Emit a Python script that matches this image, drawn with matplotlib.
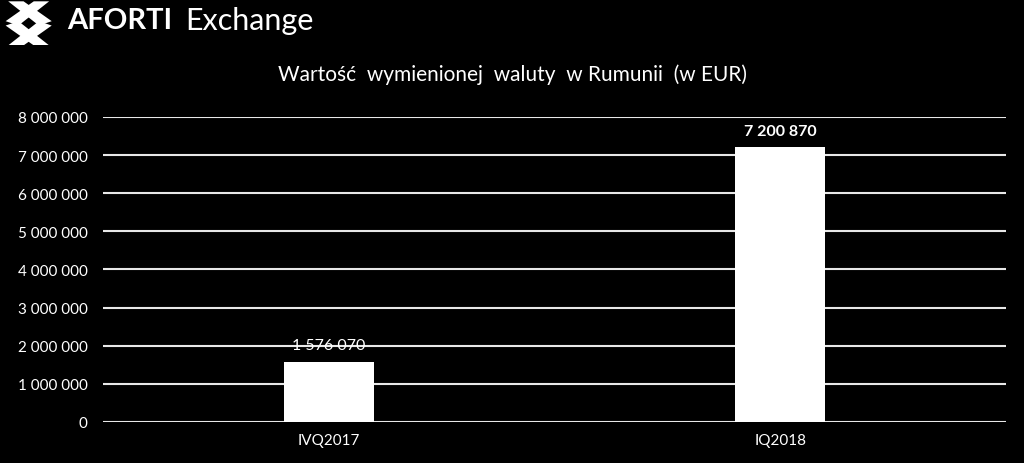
import matplotlib.pyplot as plt
from matplotlib.patches import Polygon

# Dane
kwartaly = ["IVQ2017", "IQ2018"]
wartosci = [1576070, 7200870]
etykiety = ["1 576 070", "7 200 870"]
wagi = ["normal", "bold"]
yticks = [0, 1000000, 2000000, 3000000, 4000000, 5000000, 6000000, 7000000, 8000000]

plt.rcParams['font.family'] = ['Lato', 'DejaVu Sans']

fig = plt.figure(figsize=(10.24, 4.64), dpi=100, facecolor='black')
ax = fig.add_axes([0.1006, 0.0884, 0.8818, 0.6573], facecolor='black')

x = range(len(kwartaly))
bars = ax.bar(x, wartosci, width=0.2, color='white', zorder=2)

ax.set_xlim(-0.5, 1.5)
ax.set_ylim(0, 8000000)
ax.set_yticks(yticks)
ax.set_yticklabels([f"{v:,}".replace(",", " ") for v in yticks])
ax.set_xticks(list(x))
ax.set_xticklabels(kwartaly)

ax.yaxis.grid(True, color='#e8e8e8', linewidth=1.5, zorder=1)
ax.set_axisbelow(True)
for s in ax.spines.values():
    s.set_visible(False)
ax.tick_params(axis='both', length=0, colors='white', labelsize=11)
ax.tick_params(axis='y', pad=11)
ax.tick_params(axis='x', pad=8)

# Wartości nad słupkami
for bar, lab, w in zip(bars, etykiety, wagi):
    ax.text(bar.get_x() + bar.get_width() / 2, bar.get_height() + 250000, lab,
            ha='center', va='bottom', color='white', fontsize=11.5, fontweight=w, zorder=3)

fig.text(0.5, 0.838, "Wartość  wymienionej  waluty  w Rumunii  (w EUR)", ha='center', va='center',
         color='white', fontsize=15)

# Logo
lax = fig.add_axes([0.003, 0.9, 0.05, 0.095], facecolor='black')
lax.set_xlim(0, 10)
lax.set_ylim(0, 10)
lax.axis('off')
for pts in [[(1, 10), (4, 10), (9.5, 5.5), (7, 4.5)],
            [(1, 0), (4, 0), (9.5, 4.5), (7, 5.5)],
            [(9, 10), (6, 10), (0.5, 5.5), (3, 4.5)],
            [(9, 0), (6, 0), (0.5, 4.5), (3, 5.5)]]:
    lax.add_patch(Polygon(pts, closed=True, color='white', lw=0))

fig.text(0.066, 0.955, "AFORTI", ha='left', va='center', color='white', fontsize=21, fontweight='bold')
fig.text(0.181, 0.955, "Exchange", ha='left', va='center', color='white', fontsize=22)

fig.savefig("out.png", dpi=100, facecolor='black')
